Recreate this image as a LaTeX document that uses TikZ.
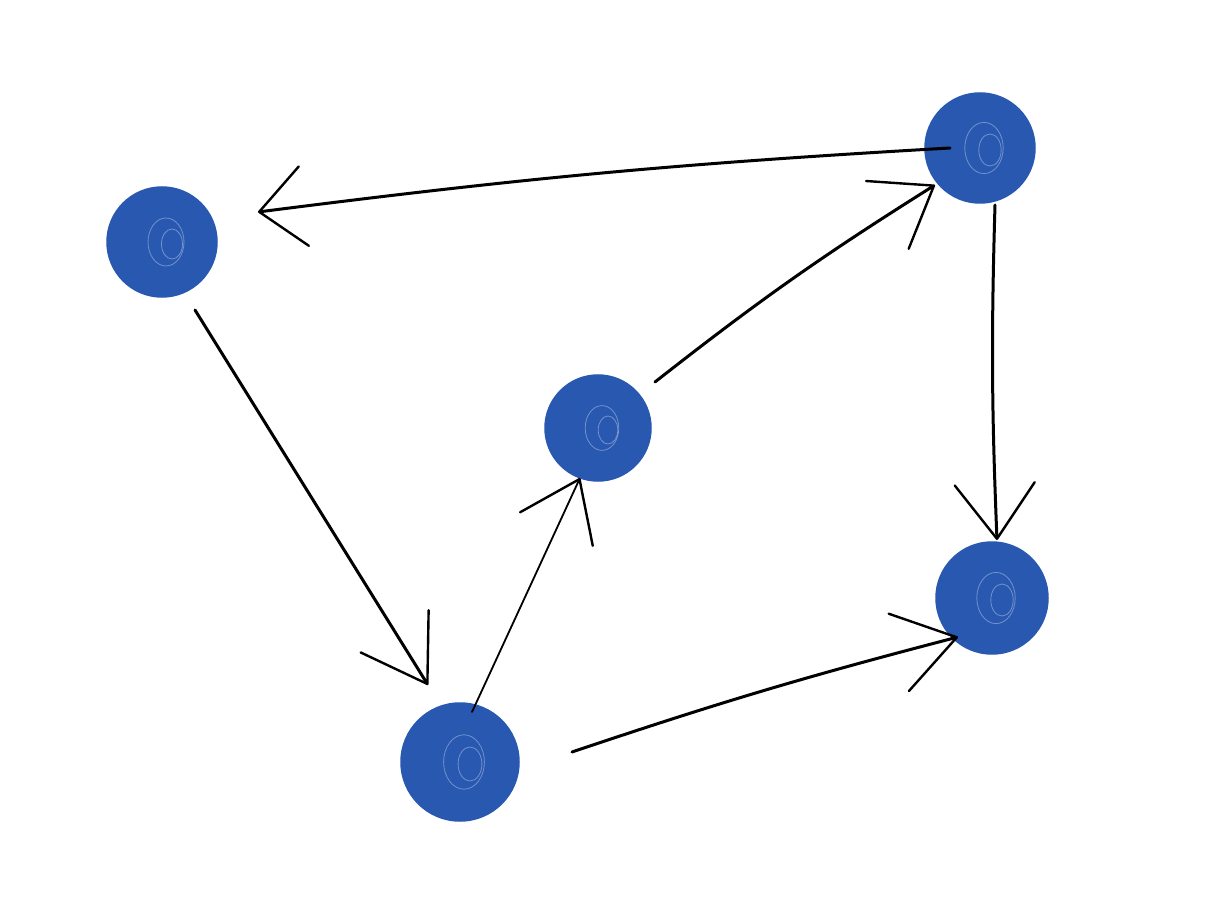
\documentclass[tikz,border=0pt]{standalone}
\usetikzlibrary{arrows.meta}
\definecolor{dotblue}{RGB}{40,88,176}
\begin{document}
\begin{tikzpicture}[x=1pt,y=-1pt,
  dot/.style={circle,fill=dotblue,draw=dotblue,line width=1.5pt,inner sep=0pt,minimum size=#1},
  link/.style={line width=3pt,line cap=round,black,
    -{Straight Barb[length=#1,width=80pt,line width=2.4pt,round]}},
  link/.default=52pt,
  swirl/.style={draw=white,opacity=0.35,line width=0.8pt}]
\useasboundingbox (0,0) rectangle (1211,904);
% nodes
\node[dot=110pt] (A) at (162,242) {};
\node[dot=110pt] (B) at (980,148) {};
\node[dot=106pt] (C) at (598,428) {};
\node[dot=118pt] (D) at (460,762) {};
\node[dot=112pt] (E) at (992,598) {};
% scribble hints
\foreach \n/\r in {A/30,B/32,C/28,D/34,E/32}{
  \draw[swirl] (\n.center) ++(4,0) ellipse ({\r*0.6} and {\r*0.8});
  \draw[swirl] (\n.center) ++(10,2) ellipse ({\r*0.35} and {\r*0.5});
}
% endpoints
\coordinate (ba1) at (950,148); \coordinate (ba2) at (258,212);
\coordinate (ad1) at (195,310); \coordinate (ad2) at (428,685);
\coordinate (dc1) at (472,712); \coordinate (dc2) at (580,478);
\coordinate (cb1) at (655,382); \coordinate (cb2) at (935,185);
\coordinate (be1) at (995,205); \coordinate (be2) at (997,540);
\coordinate (de1) at (572,752); \coordinate (de2) at (958,637);
% edges
\draw[link=45pt] (ba1) to[bend right=2] (ba2);
\draw[link=62pt] (ad1) -- (ad2);
\draw[link=55pt,line width=1.8pt] (dc1) -- (dc2);
\draw[link=55pt] (cb1) to[bend left=3] (cb2);
\draw[link=55pt] (be1) to[bend right=2] (be2);
\draw[link=60pt] (de1) to[bend left=2] (de2);
\end{tikzpicture}
\end{document}
